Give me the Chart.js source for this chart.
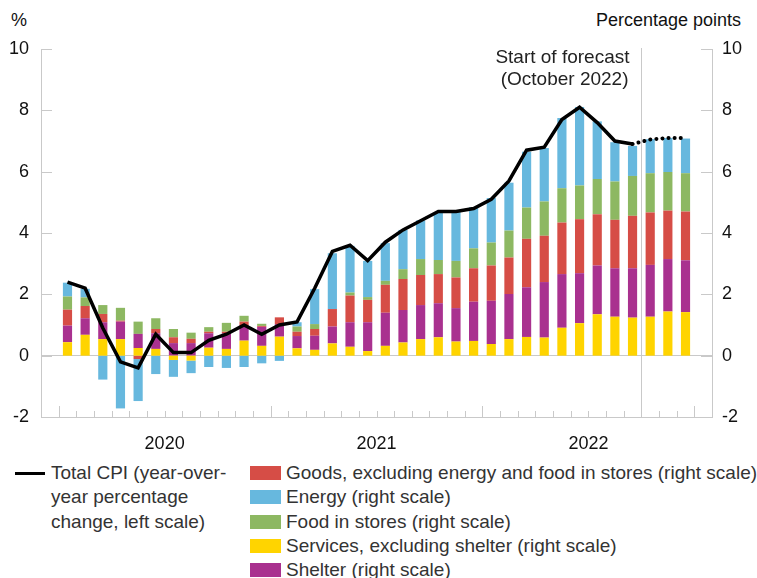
<!DOCTYPE html>
<html>
<head>
<meta charset="utf-8">
<script src="https://cdn.jsdelivr.net/npm/chart.js@4.4.1/dist/chart.umd.min.js"></script>
<style>
    body { margin: 0; background: #fff; font-family: 'Liberation Sans', Arial, sans-serif; }
    #wrap { position: relative; width: 757px; height: 578px; }
    .unit { position: absolute; top: 10px; font-size: 18px; line-height: 20px; color: #111; }
    #chart-box { position: absolute; left: 0; top: 0; width: 757px; height: 455px; }
    .legend-text { position: absolute; font-size: 19px; line-height: 24.4px; color: #333; white-space: nowrap; }
    .legend-line { position: absolute; left: 15px; top: 472px; width: 30px; height: 3px; background: #000; }
    .legend-box { position: absolute; left: 250px; width: 31px; height: 14px; }
</style>
</head>
<body>
<div id="wrap">
    <div class="unit" style="left:11px">%</div>
    <div class="unit" style="right:16px">Percentage points</div>
    <div id="chart-box"><canvas id="cpi-chart"></canvas></div>
    <div class="legend-line"></div>
    <div class="legend-text" style="left:51px;top:461px">Total CPI (year-over-<br>year percentage<br>change, left scale)</div>
    <div id="legend"></div>
</div>
<script>
// Monthly, Jan 2020 - Dec 2022 (forecast from Oct 2022)
const months = [
    'Jan 2020', 'Feb 2020', 'Mar 2020', 'Apr 2020', 'May 2020', 'Jun 2020',
    'Jul 2020', 'Aug 2020', 'Sep 2020', 'Oct 2020', 'Nov 2020', 'Dec 2020',
    'Jan 2021', 'Feb 2021', 'Mar 2021', 'Apr 2021', 'May 2021', 'Jun 2021',
    'Jul 2021', 'Aug 2021', 'Sep 2021', 'Oct 2021', 'Nov 2021', 'Dec 2021',
    'Jan 2022', 'Feb 2022', 'Mar 2022', 'Apr 2022', 'May 2022', 'Jun 2022',
    'Jul 2022', 'Aug 2022', 'Sep 2022', 'Oct 2022', 'Nov 2022', 'Dec 2022'
];
const yearLabels = ['2020', '2021', '2022'];
const yTicks = [-2, 0, 2, 4, 6, 8, 10];

const services = [
    0.44, 0.68, 0.54, 0.54, 0.25, 0.22, -0.14, -0.16, 0.26, 0.22, 0.49, 0.32,
    0.62, 0.24, 0.19, 0.40, 0.29, 0.15, 0.32, 0.43, 0.54, 0.60, 0.46, 0.48,
    0.38, 0.54, 0.61, 0.59, 0.91, 1.06, 1.35, 1.27, 1.24, 1.27, 1.44, 1.42
];
const shelter = [
    0.54, 0.54, 0.55, 0.57, 0.46, 0.51, 0.41, 0.41, 0.47, 0.51, 0.51, 0.62,
    0.41, 0.40, 0.46, 0.55, 0.80, 0.94, 1.08, 1.06, 1.11, 1.11, 1.09, 1.28,
    1.41, 1.47, 1.62, 1.81, 1.75, 1.63, 1.59, 1.58, 1.61, 1.69, 1.71, 1.69
];
const goods = [
    0.52, 0.40, 0.27, 0.03, -0.11, 0.14, 0.19, 0.14, 0.05, 0.05, 0.11, 0.03,
    0.22, 0.14, 0.22, 0.57, 0.87, 0.73, 0.91, 1.01, 0.98, 0.95, 1.00, 1.09,
    1.15, 1.19, 1.58, 1.51, 1.68, 1.76, 1.67, 1.58, 1.71, 1.71, 1.58, 1.59
];
const food = [
    0.43, 0.28, 0.29, 0.42, 0.40, 0.35, 0.27, 0.20, 0.15, 0.29, 0.19, 0.07,
    0.00, 0.17, 0.16, 0.00, 0.10, 0.09, 0.13, 0.32, 0.52, 0.46, 0.54, 0.65,
    0.75, 0.88, 1.02, 1.12, 1.12, 1.10, 1.15, 1.25, 1.30, 1.28, 1.26, 1.25
];
const energy = [
    0.45, 0.28, -0.78, -1.72, -1.37, -0.60, -0.55, -0.41, -0.37, -0.40, -0.37, -0.25,
    -0.17, 0.14, 1.14, 1.82, 1.52, 1.18, 1.23, 1.28, 1.26, 1.55, 1.61, 1.34,
    1.45, 1.56, 1.82, 1.74, 2.29, 2.56, 1.88, 1.28, 0.98, 1.11, 1.11, 1.13
];
const totalCpi = [
    2.4, 2.2, 0.9, -0.2, -0.4, 0.7, 0.1, 0.1, 0.5, 0.7, 1.0, 0.7,
    1.0, 1.1, 2.2, 3.4, 3.6, 3.1, 3.7, 4.1, 4.4, 4.7, 4.7, 4.8,
    5.1, 5.7, 6.7, 6.8, 7.7, 8.1, 7.6, 7.0, 6.9, null, null, null
];
const cpiForecast = [
    null, null, null, null, null, null, null, null, null, null, null, null,
    null, null, null, null, null, null, null, null, null, null, null, null,
    null, null, null, null, null, null, null, null, 6.9, 7.05, 7.1, 7.1
];
const forecastStart = 'Oct 2022';

const colors = {
    goods: '#d64d46',
    energy: '#67b8de',
    food: '#8db862',
    services: '#ffd400',
    shelter: '#a9318f',
    axis: '#c9c9c9'
};

// one empty month either side, like the original frame
const pad = arr => [null, ...arr, null];
const labels = pad(months).map(m => m || '');

const barSets = [
    { label: 'Services, excluding shelter (right scale)', data: services, color: colors.services },
    { label: 'Shelter (right scale)', data: shelter, color: colors.shelter },
    { label: 'Goods, excluding energy and food in stores (right scale)', data: goods, color: colors.goods },
    { label: 'Food in stores (right scale)', data: food, color: colors.food },
    { label: 'Energy (right scale)', data: energy, color: colors.energy }
];
const legendOrder = [2, 4, 3, 0, 1];

const decorations = {
    id: 'decorations',
    beforeDatasetsDraw(chart) {
        const { ctx, chartArea, scales } = chart;
        const x = scales.x;
        ctx.save();
        ctx.strokeStyle = colors.axis;
        ctx.lineWidth = 1;
        // month ticks along the bottom, taller at year boundaries
        for (let i = 1; i < labels.length; i++) {
            const px = Math.round((x.getPixelForValue(i - 1) + x.getPixelForValue(i)) / 2) + 0.5;
            const tall = labels[i].startsWith('Jan') || i === labels.length - 1;
            const len = tall ? 11 : 6;
            ctx.beginPath();
            ctx.moveTo(px, chartArea.bottom);
            ctx.lineTo(px, chartArea.bottom - len);
            ctx.stroke();
            if (labels[i] === forecastStart) {
                ctx.beginPath();
                ctx.moveTo(px, chartArea.top - 1);
                ctx.lineTo(px, chartArea.bottom);
                ctx.stroke();
                ctx.fillStyle = '#222';
                ctx.font = '19px "Liberation Sans", Arial, sans-serif';
                ctx.textAlign = 'right';
                ctx.textBaseline = 'alphabetic';
                ctx.fillText('Start of forecast', px - 12, 63);
                ctx.fillText('(October 2022)', px - 13, 85);
            }
        }
        // inward ticks on both value axes
        yTicks.forEach(v => {
            const py = Math.round(scales.y.getPixelForValue(v)) + 0.5;
            ctx.beginPath();
            ctx.moveTo(chartArea.left, py);
            ctx.lineTo(chartArea.left + 11, py);
            ctx.moveTo(chartArea.right, py);
            ctx.lineTo(chartArea.right - 11, py);
            ctx.stroke();
        });
        ctx.restore();
    }
};

const axisFont = { family: '"Liberation Sans", Arial, sans-serif', size: 18 };

const chart = new Chart(document.getElementById('cpi-chart'), {
    type: 'bar',
    data: {
        labels: labels,
        datasets: [
            {
                type: 'line',
                label: 'Total CPI',
                data: pad(totalCpi),
                yAxisID: 'y',
                borderColor: '#000',
                borderWidth: 3.5,
                pointRadius: 0,
                tension: 0,
                order: 0
            },
            {
                type: 'line',
                label: 'Total CPI forecast',
                data: pad(cpiForecast),
                yAxisID: 'y',
                borderColor: '#000',
                borderWidth: 4,
                borderDash: [0.1, 6],
                borderCapStyle: 'round',
                pointRadius: 0,
                tension: 0,
                order: 0
            },
            ...barSets.map(s => ({
                label: s.label,
                data: pad(s.data),
                backgroundColor: s.color,
                yAxisID: 'y1',
                barPercentage: 0.52,
                categoryPercentage: 1,
                order: 1
            }))
        ]
    },
    options: {
        responsive: true,
        maintainAspectRatio: false,
        animation: false,
        layout: { padding: { top: 49, left: 0, right: 0, bottom: 0 } },
        plugins: {
            legend: { display: false },
            tooltip: { enabled: false }
        },
        scales: {
            x: {
                stacked: true,
                grid: { display: false },
                border: { display: true, color: colors.axis },
                ticks: {
                    autoSkip: false,
                    maxRotation: 0,
                    color: '#111',
                    font: axisFont,
                    padding: 8,
                    labelOffset: -8.8,
                    callback: function (value) {
                        const l = this.getLabelForValue(value);
                        return l.startsWith('Jul') ? l.slice(4) : '';
                    }
                },
                afterFit: scale => { scale.height = 38; }
            },
            y: {
                position: 'left',
                min: -2,
                max: 10,
                afterBuildTicks: scale => { scale.ticks = yTicks.map(v => ({ value: v })); },
                ticks: { color: '#111', font: axisFont, padding: 12 },
                grid: {
                    drawTicks: false,
                    color: ctx => ctx.tick && ctx.tick.value === 0 ? colors.axis : 'transparent'
                },
                border: { display: true, color: colors.axis },
                afterFit: scale => { scale.width = 41; }
            },
            y1: {
                position: 'right',
                stacked: true,
                min: -2,
                max: 10,
                afterBuildTicks: scale => { scale.ticks = yTicks.map(v => ({ value: v })); },
                ticks: { color: '#111', font: axisFont, padding: 10 },
                grid: { display: false, drawTicks: false },
                border: { display: true, color: colors.axis },
                afterFit: scale => { scale.width = 45; }
            }
        }
    },
    plugins: [decorations]
});

// legend for the stacked components
const legend = document.getElementById('legend');
legendOrder.forEach((idx, row) => {
    const s = barSets[idx];
    const top = 473 + row * 24.3;
    const box = document.createElement('div');
    box.className = 'legend-box';
    box.style.top = (top - 7) + 'px';
    box.style.background = s.color;
    const text = document.createElement('div');
    text.className = 'legend-text';
    text.style.left = '286px';
    text.style.top = (top - 12) + 'px';
    text.textContent = s.label;
    legend.appendChild(box);
    legend.appendChild(text);
});
</script>
</body>
</html>
